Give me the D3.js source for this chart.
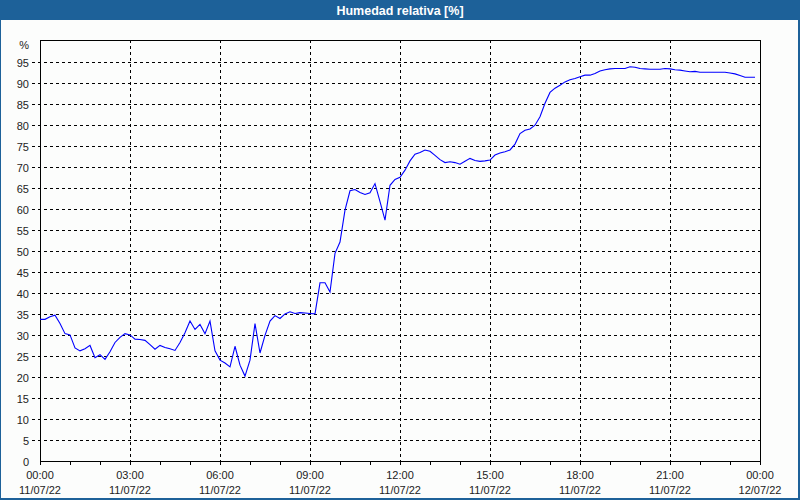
<!DOCTYPE html>
<html>
<head>
<meta charset="utf-8">
<script src="https://cdn.jsdelivr.net/npm/d3@7"></script>
<style>
  html, body { margin: 0; padding: 0; background: #fcfdfc; }
  svg { display: block; }
  text { font-family: "Liberation Sans", Arial, sans-serif; }
</style>
</head>
<body>
<svg id="chart" width="800" height="500"></svg>
<script>
// ---- data ----
const title = "Humedad relativa [%]";
const yUnit = "%";
const startTime = "2022-07-11T00:00:00";
const endTime = "2022-07-12T00:00:00";
const stepMinutes = 10;
// relative humidity every 10 minutes from 00:00 to 23:50 (11/07/22)
const humidity = [
  33.7,33.7,34.3,34.7,32.7,30.3,30.0,26.9,26.2,26.7,27.5,24.6,25.3,24.2,26.0,28.2,29.4,30.3,30.0,29.0,
  28.9,28.7,27.7,26.6,27.5,27.0,26.7,26.3,28.2,30.5,33.3,31.3,32.5,30.3,33.3,26.2,24.0,23.3,22.4,27.3,
  22.8,20.2,24.0,32.7,25.7,29.9,33.3,34.6,33.9,
  35.0,35.5,35.1,35.3,35.2,35.1,35.0,42.4,42.4,40.2,49.4,52.1,59.7,64.3,64.6,63.9,63.4,63.8,66.0,61.7,
  57.3,65.6,67.0,67.5,69.2,71.4,73.0,73.4,74.0,73.7,72.7,71.7,71.0,71.2,71.0,70.6,71.3,72.0,71.5,71.3,
  71.4,71.6,72.8,73.3,73.6,74.0,75.4,
  77.9,78.7,79.0,79.9,81.9,85.1,87.7,88.7,89.4,90.2,90.7,91.0,91.4,91.8,91.8,92.2,92.8,93.1,93.3,93.4,
  93.4,93.4,93.8,93.7,93.4,93.3,93.2,93.2,93.2,93.4,93.3,93.1,93.0,92.8,92.6,92.7,92.5,92.5,92.5,92.5,
  92.5,92.5,92.3,92.1,91.7,91.3,91.3,91.3
];
const yTicks = [0,5,10,15,20,25,30,35,40,45,50,55,60,65,70,75,80,85,90,95];
const xTickHours = [0,3,6,9,12,15,18,21,24];

// ---- layout ----
const W = 800, H = 500;
const plot = {left: 40, right: 760, top: 40, bottom: 461};
const svg = d3.select("#chart");

const t0 = new Date(startTime), t1 = new Date(endTime);
const x = d3.scaleTime().domain([t0, t1]).range([plot.left, plot.right]);
const y = d3.scaleLinear().domain([0, 100]).range([plot.bottom, plot.top + 0.7]);

const pts = humidity.map((v, i) => ({t: d3.timeMinute.offset(t0, i * stepMinutes), v}));

// background + window frame
svg.append("rect").attr("x", 0).attr("y", 0).attr("width", W).attr("height", H).attr("fill", "#fcfdfc");
svg.append("rect").attr("x", 0.5).attr("y", 0.5).attr("width", W - 1.5).attr("height", H - 1.5)
  .attr("fill", "none").attr("stroke", "#1d6199").attr("stroke-width", 1);
svg.append("rect").attr("x", W - 2).attr("y", 0).attr("width", 2).attr("height", H).attr("fill", "#1d6199");
svg.append("rect").attr("x", 0).attr("y", H - 2).attr("width", W).attr("height", 2).attr("fill", "#1d6199");
svg.append("rect").attr("x", 0).attr("y", 0).attr("width", W).attr("height", 20).attr("fill", "#1d6199");
svg.append("text").attr("x", W / 2).attr("y", 14.5).attr("text-anchor", "middle")
  .attr("fill", "#ffffff").attr("font-weight", "bold").attr("font-size", "12.5px").text(title);

// horizontal grid (dashed) with labels
const yAxis = d3.axisLeft(y).tickValues(yTicks.filter(d => d > 0)).tickSize(0).tickFormat("");
const gy = svg.append("g");
yTicks.filter(d => d > 0).forEach(d => {
  const yy = Math.round(y(d)) + 0.5;
  gy.append("line").attr("x1", 32).attr("x2", plot.right).attr("y1", yy).attr("y2", yy)
    .attr("stroke", "#000").attr("stroke-dasharray", "3,3").attr("shape-rendering", "crispEdges");
});
yTicks.forEach(d => {
  gy.append("text").attr("x", 29).attr("y", Math.round(y(d)) + 5)
    .attr("text-anchor", "end").attr("font-size", "11px").attr("fill", "#222").text(d);
});
gy.append("text").attr("x", 29).attr("y", 49).attr("text-anchor", "end")
  .attr("font-size", "11px").attr("fill", "#222").text(yUnit);

// vertical grid (dashed)
const gx = svg.append("g");
xTickHours.filter(h => h > 0 && h < 24).forEach(h => {
  const xx = Math.round(x(d3.timeHour.offset(t0, h))) + 0.5;
  gx.append("line").attr("x1", xx).attr("x2", xx).attr("y1", plot.top).attr("y2", plot.bottom)
    .attr("stroke", "#000").attr("stroke-dasharray", "3,3").attr("shape-rendering", "crispEdges");
});

// x axis with hourly minor ticks
const xAxis = d3.axisBottom(x).ticks(d3.timeHour.every(1)).tickSize(4).tickFormat("");
const ax = svg.append("g").attr("transform", `translate(0,${plot.bottom})`).call(xAxis);
ax.select(".domain").remove();
ax.selectAll("line").attr("stroke", "#000").attr("shape-rendering", "crispEdges");

const fmtT = d3.timeFormat("%H:%M"), fmtD = d3.timeFormat("%d/%m/%y");
xTickHours.forEach(h => {
  const d = d3.timeHour.offset(t0, h);
  const xx = x(d);
  svg.append("text").attr("x", xx).attr("y", 479).attr("text-anchor", "middle")
    .attr("font-size", "11px").attr("fill", "#222").text(fmtT(d));
  svg.append("text").attr("x", xx).attr("y", 494).attr("text-anchor", "middle")
    .attr("font-size", "11px").attr("fill", "#222").text(fmtD(d));
});

// plot frame
svg.append("rect").attr("x", plot.left + 0.5).attr("y", plot.top + 0.5)
  .attr("width", plot.right - plot.left).attr("height", plot.bottom - plot.top)
  .attr("fill", "none").attr("stroke", "#000").attr("shape-rendering", "crispEdges");

// data line
const line = d3.line().x(d => x(d.t)).y(d => y(d.v));
svg.append("path").datum(pts).attr("d", line).attr("fill", "none")
  .attr("stroke", "#0000ff").attr("stroke-width", 1.1);
</script>
</body>
</html>
